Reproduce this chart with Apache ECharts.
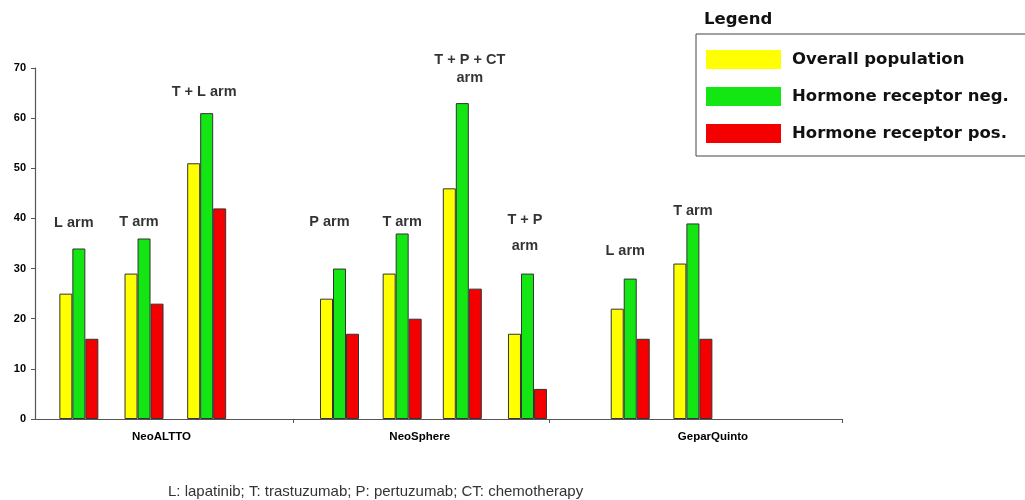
<!DOCTYPE html>
<html><head><meta charset="utf-8">
<script src="https://cdn.jsdelivr.net/npm/echarts@6/dist/echarts.min.js"></script>
<style>html,body{margin:0;padding:0;background:#fff}#c{width:1025px;height:500px}</style>
</head><body><div id="c"></div>
<script>
// ---------- data ----------
const groups = ['NeoALTTO', 'NeoSphere', 'GeparQuinto'];
const arms = ['L arm', 'T arm', 'T + L arm', 'P arm', 'T arm', 'T + P + CT\narm', 'T + P\narm', 'L arm', 'T arm'];
const overall = [25, 29, 51, 24, 29, 46, 17, 22, 31];
const hrNeg   = [34, 36, 61, 30, 37, 63, 29, 28, 39];
const hrPos   = [16, 23, 42, 17, 20, 26, 6, 16, 16];
const seriesNames = ['Overall population', 'Hormone receptor neg.', 'Hormone receptor pos.'];
const yTickLabels = ['0', '10', '20', '30', '40', '50', '60', '70'];
const legendTitle = 'Legend';
const footnote = 'L: lapatinib; T: trastuzumab; P: pertuzumab; CT: chemotherapy';

// ---------- layout (slot grid along the category axis) ----------
const SLOTS = 322;
const armSlot = [17, 43, 68, 121, 146, 170, 196, 237, 262];
const armLabelSlot = [15, 41, 67, 117, 146, 173, 195, 235, 262];
const armLabelLevel = [39.1, 39.2, 65.2, 39.3, 39.3, 69.9, 37.0, 33.6, 41.5];
const armLabelLineHeight = [16, 16, 16, 16, 16, 18, 26, 16, 16];
const groupLabelSlot = [50, 153, 270];
const groupTickSlot = [103, 205];
const colors = ['#ffff00', '#14e614', '#f40000'];

const slotNames = Array.from({length: SLOTS}, (_, i) => 's' + i);
function slotData(values) {
  const d = new Array(SLOTS).fill('-');
  values.forEach((v, i) => { d[armSlot[i]] = v; });
  return d;
}
const valueSets = [overall, hrNeg, hrPos];

const chart = echarts.init(document.getElementById('c'), null, {renderer: 'canvas'});
const option = {
  animation: false,
  backgroundColor: '#fff',
  textStyle: {fontFamily: 'Liberation Sans, Arial, sans-serif'},
  title: [
    {text: legendTitle, left: 699, top: 6,
     textStyle: {fontFamily: 'DejaVu Sans', fontWeight: 'bold', fontSize: 16.5, color: '#111'}},
    {text: footnote, left: 163, top: 479,
     textStyle: {fontFamily: 'Liberation Sans', fontWeight: 'normal', fontSize: 15, color: '#333'}}
  ],
  legend: {
    orient: 'vertical', left: 696, top: 34,
    padding: [16, 30, 13, 10],
    borderColor: '#444', borderWidth: 1,
    itemWidth: 75, itemHeight: 19, itemGap: 18,
    icon: 'rect',
    itemStyle: {borderWidth: 0},
    textStyle: {fontFamily: 'DejaVu Sans', fontWeight: 'bold', fontSize: 16.5, color: '#111', padding: [0, 0, 0, 6]},
    data: seriesNames
  },
  grid: {left: 35, right: 183, top: 68, bottom: 81, containLabel: false},
  xAxis: {
    type: 'category', data: slotNames, boundaryGap: true,
    axisLine: {lineStyle: {color: '#555', width: 1.2}},
    axisTick: {show: true, length: 4, lineStyle: {color: '#555'},
      interval: (idx) => groupTickSlot.indexOf(idx) >= 0},
    axisLabel: {
      interval: (idx) => groupLabelSlot.indexOf(idx) >= 0,
      formatter: (v, idx) => { const g = groupLabelSlot.indexOf(idx); return g >= 0 ? groups[g] : ''; },
      fontFamily: 'Liberation Sans', fontWeight: 'bold', fontSize: 11.5, color: '#000', margin: 12
    },
    splitLine: {show: false}
  },
  yAxis: {
    type: 'value', min: 0, max: 70, interval: 10,
    axisLine: {show: true, lineStyle: {color: '#555', width: 1.2}},
    axisTick: {show: true, length: 4, lineStyle: {color: '#555'}},
    axisLabel: {fontFamily: 'Liberation Sans', fontWeight: 'bold', fontSize: 11, color: '#000', margin: 9,
      formatter: (v) => yTickLabels[Math.round(v / 10)]},
    splitLine: {show: false}
  },
  series: [
    ...seriesNames.map((name, k) => ({
      name, type: 'bar', data: slotData(valueSets[k]),
      barWidth: 13, barGap: '0%',
      itemStyle: {color: colors[k], borderColor: '#333', borderWidth: 1},
      emphasis: {disabled: true}, silent: true
    })),
    {
      type: 'scatter', symbolSize: 1, silent: true,
      itemStyle: {color: 'rgba(0,0,0,0)'},
      data: arms.map((a, i) => ({
        value: [armLabelSlot[i], armLabelLevel[i]],
        label: {show: true, position: 'inside', formatter: a, lineHeight: armLabelLineHeight[i],
          fontFamily: 'Liberation Sans', fontWeight: 'bold', fontSize: 14.5, color: '#000', align: 'center'}
      }))
    }
  ]
};
chart.setOption(option);
</script>
</body></html>
